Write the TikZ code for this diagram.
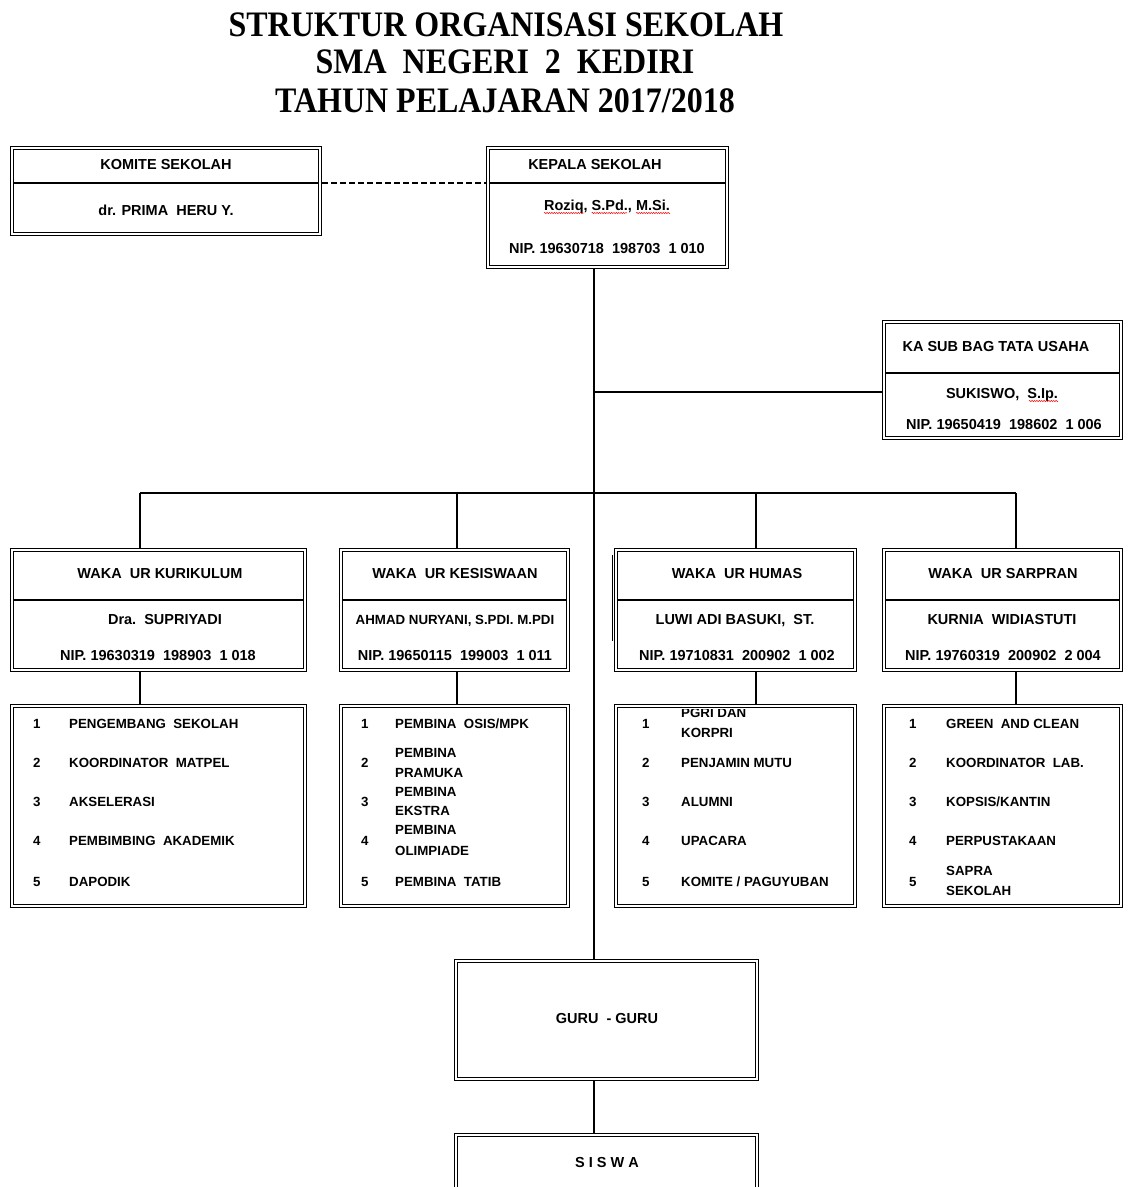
\documentclass[tikz,border=0pt]{standalone}
\usepackage{fontspec}
\setmainfont{Liberation Sans}
\newfontfamily\ttlserif{Liberation Serif}
\usetikzlibrary{calc,decorations.pathmorphing}
\newcommand{\mybf}{\fontsize{14.5}{16}\selectfont\bfseries}
\newcommand{\mysmbf}{\fontsize{13.3}{15}\selectfont\bfseries}
\newcommand{\mylf}{\fontsize{13.3}{15}\selectfont\bfseries}
\newcommand{\mytf}{\ttlserif\fontsize{32}{36}\selectfont\bfseries}
\begin{document}
\begin{tikzpicture}[x=1pt,y=-1pt,
  dbox/.style={draw=black, line width=1.2pt, double=white, double distance=1.8pt, inner sep=0pt, outer sep=2.1pt},
  txt/.style={font=\mybf, inner sep=0pt, anchor=base, text=black},
  ltxt/.style={font=\mylf, inner sep=0pt, anchor=base west, text=black},
  ttl/.style={font=\mytf, inner sep=0pt, anchor=base, text=black},
  conn/.style={draw=black, line width=1.4pt},
  divl/.style={draw=black, line width=1.3pt},
  squig/.style={draw=red, line width=0.5pt, decorate, decoration={snake, amplitude=0.6pt, segment length=2.4pt}}]

\fill[white] (0,0) rectangle (1130,1187);
\clip (0,0) rectangle (1130,1187);
\useasboundingbox (0,0) rectangle (1130,1187);

% ---------- title ----------
\node[ttl] (t1) at (506,36) {\scalebox{1}[1.12]{STRUKTUR ORGANISASI SEKOLAH}};
\node[ttl] (t2) at (505,73) {\scalebox{1}[1.12]{SMA\ \ NEGERI\ \ 2\ \ KEDIRI}};
\node[ttl] (t3) at (505,112) {\scalebox{1}[1.12]{TAHUN PELAJARAN 2017/2018}};

% ---------- helper coordinates ----------
\coordinate (d1) at (0,183);
\coordinate (dk) at (0,373);
\coordinate (dw) at (0,600);
\coordinate (j1) at (594,392);
\coordinate (x1) at (140,493);
\coordinate (x2) at (457,493);
\coordinate (x3) at (756,493);
\coordinate (x4) at (1016,493);

% ---------- boxes ----------
\node[dbox, minimum width=307.8pt, minimum height=85.8pt] (komite) at (166,191) {};
\node[dbox, minimum width=238.8pt, minimum height=118.8pt] (kepala) at (607.5,207.5) {};
\node[dbox, minimum width=236.8pt, minimum height=115.8pt] (kasub) at (1002.5,380) {};

\node[dbox, minimum width=292.8pt, minimum height=119.8pt] (wk) at (158.5,610) {};
\node[dbox, minimum width=226.8pt, minimum height=119.8pt] (ws) at (454.5,610) {};
\node[dbox, minimum width=238.8pt, minimum height=119.8pt] (wh) at (735.5,610) {};
\node[dbox, minimum width=236.8pt, minimum height=119.8pt] (wp) at (1002.5,610) {};

\node[dbox, minimum width=292.8pt, minimum height=199.8pt] (lk) at (158.5,806) {};
\node[dbox, minimum width=226.8pt, minimum height=199.8pt] (ls) at (454.5,806) {};
\node[dbox, minimum width=238.8pt, minimum height=199.8pt] (lh) at (735.5,806) {};
\node[dbox, minimum width=236.8pt, minimum height=199.8pt] (lp) at (1002.5,806) {};

\node[dbox, minimum width=300.8pt, minimum height=117.8pt] (guru) at (606.5,1020) {};
\node[dbox, minimum width=300.8pt, minimum height=119.8pt] (siswa) at (606.5,1195) {};

% odd doubled left edge of the HUMAS box
\draw[line width=0.9pt] ($(wh.north west)+(-1.2,7)$) -- ($(wh.south west)+(-1.2,-31)$);

% ---------- dividers ----------
\draw[divl] ($(komite.west|-d1)+(3.2,0)$) -- ($(komite.east|-d1)+(-3.2,0)$);
\draw[divl] ($(kepala.west|-d1)+(3.2,0)$) -- ($(kepala.east|-d1)+(-3.2,0)$);
\draw[divl] ($(kasub.west|-dk)+(3.2,0)$) -- ($(kasub.east|-dk)+(-3.2,0)$);
\foreach \b in {wk,ws,wh,wp}{
  \draw[divl] ($(\b.west|-dw)+(3.2,0)$) -- ($(\b.east|-dw)+(-3.2,0)$);
}

% ---------- box texts ----------
\node[txt] (komT) at (166,169) {KOMITE SEKOLAH};
\node[txt] (komN) at (166,215) {dr. PRIMA\ \ HERU Y.};

\node[txt] (kepT) at (595,169) {KEPALA SEKOLAH};
\node[txt] (kepN) at (607,210) {Roziq, S.Pd., M.Si.};
\node[txt] (kepP) at (607,253) {NIP. 19630718\ \ 198703\ \ 1 010};
\draw[squig] ($(kepN.base west)!0!(kepN.base east)+(0,3)$) -- ($(kepN.base west)!0.315!(kepN.base east)+(0,3)$);
\draw[squig] ($(kepN.base west)!0.378!(kepN.base east)+(0,3)$) -- ($(kepN.base west)!0.66!(kepN.base east)+(0,3)$);
\draw[squig] ($(kepN.base west)!0.731!(kepN.base east)+(0,3)$) -- ($(kepN.base west)!1!(kepN.base east)+(0,3)$);

\node[txt] (kasT) at (996,351) {KA SUB BAG TATA USAHA};
\node[txt] (kasN) at (1002,398) {SUKISWO,\ \ S.Ip.};
\node[txt] (kasP) at (1004,429) {NIP. 19650419\ \ 198602\ \ 1 006};
\draw[squig] ($(kasN.base west)!0.74!(kasN.base east)+(0,3)$) -- ($(kasN.base west)!1!(kasN.base east)+(0,3)$);

\node[txt] (wkT) at (160,578) {WAKA\ \ UR KURIKULUM};
\node[txt] (wkN) at (165,624) {Dra.\ \ SUPRIYADI};
\node[txt] (wkP) at (158,660) {NIP. 19630319\ \ 198903\ \ 1 018};

\node[txt] (wsT) at (455,578) {WAKA\ \ UR KESISWAAN};
\node[txt, font=\mysmbf] (wsN) at (455,624) {AHMAD NURYANI, S.PDI. M.PDI};
\node[txt] (wsP) at (455,660) {NIP. 19650115\ \ 199003\ \ 1 011};

\node[txt] (whT) at (737,578) {WAKA\ \ UR HUMAS};
\node[txt] (whN) at (735,624) {LUWI ADI BASUKI,\ \ ST.};
\node[txt] (whP) at (737,660) {NIP. 19710831\ \ 200902\ \ 1 002};

\node[txt] (wpT) at (1003,578) {WAKA\ \ UR SARPRAN};
\node[txt] (wpN) at (1002,624) {KURNIA\ \ WIDIASTUTI};
\node[txt] (wpP) at (1003,660) {NIP. 19760319\ \ 200902\ \ 2 004};

% ---------- list box 1 ----------
\node[ltxt] (k1n) at (33,728) {1}; \node[ltxt] (k1t) at (69,728) {PENGEMBANG\ \ SEKOLAH};
\node[ltxt] (k2n) at (33,767) {2}; \node[ltxt] (k2t) at (69,767) {KOORDINATOR\ \ MATPEL};
\node[ltxt] (k3n) at (33,806) {3}; \node[ltxt] (k3t) at (69,806) {AKSELERASI};
\node[ltxt] (k4n) at (33,845) {4}; \node[ltxt] (k4t) at (69,845) {PEMBIMBING\ \ AKADEMIK};
\node[ltxt] (k5n) at (33,886) {5}; \node[ltxt] (k5t) at (69,886) {DAPODIK};

% ---------- list box 2 ----------
\node[ltxt] (s1n) at (361,728) {1}; \node[ltxt] (s1t) at (395,728) {PEMBINA\ \ OSIS/MPK};
\node[ltxt] (s2n) at (361,767) {2}; \node[ltxt] (s2a) at (395,757) {PEMBINA}; \node[ltxt] (s2b) at (395,777) {PRAMUKA};
\node[ltxt] (s3n) at (361,806) {3}; \node[ltxt] (s3a) at (395,796) {PEMBINA}; \node[ltxt] (s3b) at (395,815) {EKSTRA};
\node[ltxt] (s4n) at (361,845) {4}; \node[ltxt] (s4a) at (395,834) {PEMBINA}; \node[ltxt] (s4b) at (395,855) {OLIMPIADE};
\node[ltxt] (s5n) at (361,886) {5}; \node[ltxt] (s5t) at (395,886) {PEMBINA\ \ TATIB};

% ---------- list box 3 ----------
\begin{scope}
  \clip ($(lh.north west)+(3,5.5)$) rectangle ($(lh.south east)+(-3,-5)$);
  \node[ltxt] (h1a) at (681,717.5) {PGRI DAN};
\end{scope}
\node[ltxt] (h1n) at (642,728) {1}; \node[ltxt] (h1b) at (681,737) {KORPRI};
\node[ltxt] (h2n) at (642,767) {2}; \node[ltxt] (h2t) at (681,767) {PENJAMIN MUTU};
\node[ltxt] (h3n) at (642,806) {3}; \node[ltxt] (h3t) at (681,806) {ALUMNI};
\node[ltxt] (h4n) at (642,845) {4}; \node[ltxt] (h4t) at (681,845) {UPACARA};
\node[ltxt] (h5n) at (642,886) {5}; \node[ltxt] (h5t) at (681,886) {KOMITE / PAGUYUBAN};

% ---------- list box 4 ----------
\node[ltxt] (p1n) at (909,728) {1}; \node[ltxt] (p1t) at (946,728) {GREEN\ \ AND CLEAN};
\node[ltxt] (p2n) at (909,767) {2}; \node[ltxt] (p2t) at (946,767) {KOORDINATOR\ \ LAB.};
\node[ltxt] (p3n) at (909,806) {3}; \node[ltxt] (p3t) at (946,806) {KOPSIS/KANTIN};
\node[ltxt] (p4n) at (909,845) {4}; \node[ltxt] (p4t) at (946,845) {PERPUSTAKAAN};
\node[ltxt] (p5n) at (909,886) {5}; \node[ltxt] (p5a) at (946,875) {SAPRA}; \node[ltxt] (p5b) at (946,895) {SEKOLAH};

% ---------- guru / siswa ----------
\node[txt] (guruT) at (607,1023) {GURU\ \ - GURU};
\node[txt] (siswaT) at (607,1167) {S I S W A};

% ---------- connectors ----------
\draw[conn, dash pattern=on 6pt off 3pt] (komite.east|-d1) -- (kepala.west|-d1);
\draw[conn] (kepala.south-|j1) -- (guru.north-|j1);
\draw[conn] (j1) -- (kasub.west|-j1);
\draw[conn] (x1) -- (x4);
\foreach \a/\b/\c in {x1/wk/lk, x2/ws/ls, x3/wh/lh, x4/wp/lp}{
  \draw[conn] (\a) -- (\b.north-|\a);
  \draw[conn] (\b.south-|\a) -- (\c.north-|\a);
}
\draw[conn] (guru.south-|j1) -- (siswa.north-|j1);
\end{tikzpicture}
\end{document}
